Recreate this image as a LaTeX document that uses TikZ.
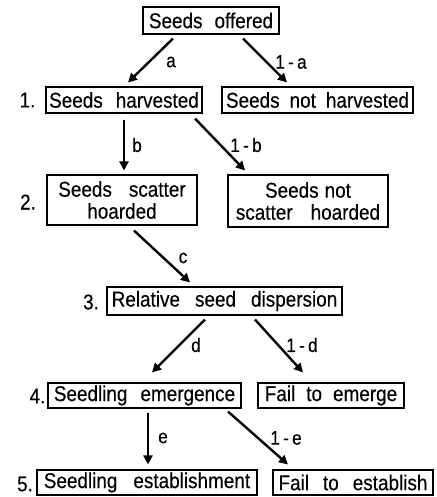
\documentclass[tikz,border=0pt]{standalone}
\usepackage{fontspec}
\setmainfont[FakeStretch=0.88,FakeBold=0.3]{Liberation Sans}
\usetikzlibrary{arrows.meta,calc}
\newcommand\boxfont{\fontsize{21.5}{22}\selectfont}
\newcommand\labfont{\fontsize{19.5}{20}\selectfont}
\newcommand\gap[1]{\hspace{#1pt}}
\begin{document}
\begin{tikzpicture}[x=1pt,y=-1pt,
  box/.style={draw,line width=1.1pt,inner sep=0pt,minimum height=26pt,font=\boxfont,align=center},
  arr/.style={line width=2.4pt,-{Triangle[length=9pt,width=9pt]}},
  lab/.style={font=\labfont,inner sep=0pt},
  num/.style={font=\boxfont,inner sep=0pt}]
\useasboundingbox (0,0) rectangle (436,497);
% boxes
\node[box,minimum width=136pt,minimum height=27pt] (off) at (211,20.5) {Seeds\gap{12}offered};
\node[box,minimum width=156pt] (h1) at (124,100) {Seeds\gap{13}harvested};
\node[box,minimum width=191pt] (nh1) at (317.5,100) {Seeds\gap{10}not\gap{10}harvested};
\node[box,minimum width=150pt,minimum height=50pt] (h2) at (122,200) {Seeds\gap{17}scatter\\hoarded};
\node[box,minimum width=160pt,minimum height=52pt] (nh2) at (308,201) {Seeds\gap{6}not\\scatter\gap{18}hoarded};
\node[box,minimum width=235pt,minimum height=28pt] (d3) at (224.5,301) {Relative\gap{15}seed\gap{15}dispersion};
\node[box,minimum width=193pt,minimum height=25pt] (e4) at (144.5,395.5) {Seedling\gap{13}emergence};
\node[box,minimum width=146pt,minimum height=25pt] (ne4) at (331,395.5) {Fail\gap{11}to\gap{11}emerge};
\node[box,minimum width=220pt,minimum height=25pt] (s5) at (147,482.5) {Seedling\gap{16}establishment};
\node[box,minimum width=160pt,minimum height=25pt] (ns5) at (353,482.5) {Fail\gap{14}to\gap{14}establish};
% step numbers
\node[num] (n1) at (27.5,100) {1.};
\node[num] (n2) at (28,202) {2.};
\node[num] (n3) at (91,302) {3.};
\node[num] (n4) at (37.5,396) {4.};
\node[num] (n5) at (25,484) {5.};
% arrows
\draw[arr] ($(off.south)+(-38,4)$) -- ($(h1.north)+(4,-4)$);
\draw[arr] ($(off.south)+(32,4)$) -- ($(nh1.north)+(-30.5,-4)$);
\draw[arr] ($(h1.south)+(0,6)$) -- ($(h2.north)+(2,-4)$);
\draw[arr] ($(h1.south)+(71,5)$) -- ($(nh2.north)+(-63,-4)$);
\draw[arr] ($(h2.south)+(12,5)$) -- ($(d3.north)+(-34.5,-4)$);
\draw[arr] ($(d3.south)+(-19.5,4)$) -- ($(e4.north)+(7.5,-10)$);
\draw[arr] ($(d3.south)+(30.5,4)$) -- ($(ne4.north)+(-28,-10)$);
\draw[arr] ($(e4.south)+(3.5,4)$) -- ($(s5.north)+(1,-5)$);
\draw[arr] ($(e4.south)+(83.5,3)$) -- ($(ns5.north)+(-65,-5)$);
% labels
\node[lab] (la) at (171,62) {a};
\node[lab] (l1a) at (291,62) {1\,-\,a};
\node[lab] (lb) at (137,145) {b};
\node[lab] (l1b) at (246,145) {1\,-\,b};
\node[lab] (lc) at (183,258) {c};
\node[lab] (ld) at (196,345) {d};
\node[lab] (l1d) at (302,345) {1\,-\,d};
\node[lab] (le) at (163,438) {e};
\node[lab] (l1e) at (286,438) {1\,-\,e};
\end{tikzpicture}
\end{document}
